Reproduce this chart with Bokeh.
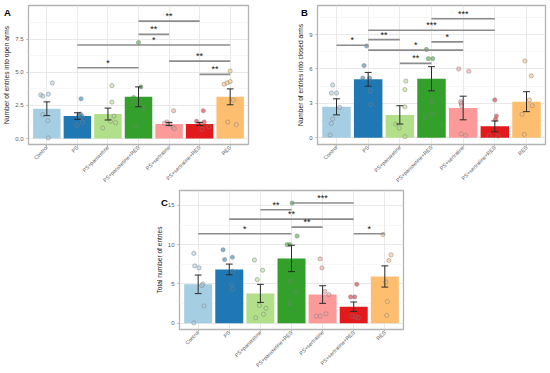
import math
from bokeh.plotting import figure
from bokeh.models import Range1d, FixedTicker, Spacer, Div
from bokeh.layouts import row, column
from bokeh.embed import file_html
from bokeh.resources import INLINE

groups = ["Control", "PS", "PS+paroxetine", "PS+paroxetine+RES",
          "PS+sertraline", "PS+sertraline+RES", "RES"]
colors = ["#A6CEE3", "#1F78B4", "#B2DF8A", "#33A02C", "#FB9A99", "#E31A1C", "#FDBF6F"]

# ---------- Panel A: entries into open arms ----------
A_mean = [2.25, 1.7, 1.85, 3.15, 1.1, 1.1, 3.15]
A_sem = [0.52, 0.25, 0.45, 0.75, 0.12, 0.12, 0.6]
A_points = [
    [3.3, 3.2, 3.35, 4.2, 1.8, 1.35, 0.05],
    [3.0, 1.85, 1.75, 1.7, 1.25, 1.0],
    [4.0, 2.75, 1.7, 1.3, 1.2, 0.8],
    [7.25, 3.9, 3.1, 2.65, 2.25, 0.95],
    [2.1, 1.25, 1.15, 1.1, 0.85, 0.75],
    [2.1, 1.3, 1.25, 1.1, 0.9, 0.7],
    [5.1, 4.3, 4.2, 4.1, 2.9, 1.25, 1.05],
]
A_sig = [(4, 6, 8.87, "**"), (4, 5, 7.87, "**"), (2, 7, 7.07, "*"),
         (5, 7, 5.85, "**"), (2, 4, 5.35, "*"), (6, 7, 4.85, "**")]
A_yticks = [0, 2.5, 5, 7.5]
A_ylabels = ["0.0", "2.5", "5.0", "7.5"]

# ---------- Panel B: entries into closed arms ----------
B_mean = [2.7, 5.1, 2.0, 5.15, 2.6, 1.0, 3.15]
B_sem = [0.7, 0.6, 0.8, 1.05, 1.03, 0.47, 0.87]
B_points = [
    [4.6, 3.9, 3.9, 2.65, 1.65, 1.25, 0.25],
    [8.0, 6.3, 5.2, 5.2, 4.1, 2.9],
    [4.95, 4.2, 2.7, 1.2, 0.85, 0.1],
    [7.7, 6.9, 6.9, 3.2, 2.1, 1.8],
    [6.0, 5.8, 3.15, 3.0, 2.8, 0.35, 0.2],
    [3.3, 1.9, 1.6, 0.2, 0.15],
    [6.7, 5.4, 3.3, 2.8, 2.05, 0.3],
]
B_sig = [(4, 6, 10.38, "***"), (2, 6, 9.37, "***"), (2, 3, 8.56, "**"),
         (4, 5, 8.36, "*"), (1, 2, 8.07, "*"), (2, 5, 7.64, "*"), (3, 4, 6.49, "**")]
B_yticks = [0, 3, 6, 9]
B_ylabels = ["0", "3", "6", "9"]

# ---------- Panel C: total entries ----------
C_mean = [4.95, 6.85, 3.8, 8.25, 3.65, 2.1, 5.95]
C_sem = [1.18, 0.68, 1.15, 1.68, 1.12, 0.6, 1.35]
C_points = [
    [8.9, 7.3, 7.05, 5.0, 4.8, 2.2, 0.05],
    [9.35, 8.4, 8.1, 6.6, 5.0, 4.35],
    [8.05, 6.75, 5.55, 2.25, 1.9, 1.15, 0.7],
    [15.3, 11.1, 10.0, 10.0, 5.3, 3.95, 2.6],
    [8.2, 7.05, 4.05, 3.65, 1.2, 0.9, 0.9],
    [4.95, 3.35, 3.35, 0.9, 0.8, 0.7],
    [11.3, 8.7, 8.0, 5.25, 2.75, 1.0],
]
C_sig = [(4, 6, 15.3, "***"), (3, 4, 14.45, "**"), (2, 6, 13.25, "**"),
         (4, 5, 12.23, "**"), (1, 4, 11.4, "*"), (6, 7, 11.4, "*")]
C_yticks = [0, 5, 10, 15]
C_ylabels = ["0", "5", "10", "15"]

# jitter offsets (horizontal placement of the dots)
A_jit = [[-0.2, -0.13, 0.05, 0.18, -0.13, 0.03, 0.05],
         [0.12, 0.1, 0.05, 0.15, 0.17, -0.02],
         [0.13, 0.13, 0.2, 0.08, 0.25, -0.17],
         [0.0, 0.08, -0.16, -0.16, 0.13, -0.09],
         [0.15, -0.07, -0.15, 0.02, 0.13, 0.17],
         [0.12, -0.1, 0.15, 0.0, 0.3, 0.08],
         [0.0, 0.0, -0.1, -0.2, 0.1, -0.08, 0.2]]
B_jit = [[-0.12, -0.16, 0.0, 0.1, -0.12, -0.16, -0.2],
         [-0.05, -0.13, -0.17, 0.05, 0.06, 0.08],
         [0.19, 0.16, 0.16, -0.13, -0.02, 0.16],
         [-0.16, -0.1, 0.04, 0.02, 0.02, -0.19],
         [-0.14, 0.18, -0.08, -0.06, -0.05, -0.06, 0.08],
         [0.0, 0.05, 0.02, -0.18, 0.1],
         [-0.05, 0.15, 0.09, 0.18, -0.14, -0.07]]
C_jit = [[-0.14, -0.11, 0.03, 0.15, 0.12, 0.19, -0.14],
         [-0.2, 0.1, -0.15, 0.1, 0.08, 0.1],
         [-0.19, 0.07, -0.1, -0.03, 0.18, 0.1, -0.15],
         [0.02, 0.18, -0.14, -0.06, -0.03, 0.15, -0.05],
         [-0.08, -0.02, 0.07, 0.2, 0.11, -0.2, -0.08],
         [0.1, -0.1, 0.03, -0.05, 0.07, 0.15],
         [-0.06, 0.2, 0.13, 0.03, 0.08, 0.06]]

FONT = "Liberation Sans"
BORDER = "#B3B3B3"


def make_panel(ylabel, mean, sem, points, jit, sig, yticks, ylabels, yr,
               width, height, mb_left, mb_right, mb_top, mb_bottom):
    p = figure(width=width, height=height, output_backend="svg", toolbar_location=None,
               x_range=Range1d(0.4, 7.6), y_range=Range1d(*yr),
               min_border_left=mb_left, min_border_right=mb_right,
               min_border_top=mb_top, min_border_bottom=mb_bottom)
    p.background_fill_color = "white"
    p.border_fill_color = "white"
    p.outline_line_color = BORDER
    p.outline_line_width = 1.3

    xs = list(range(1, len(groups) + 1))
    p.xaxis.ticker = FixedTicker(ticks=xs)
    p.xaxis.major_label_overrides = {x: g for x, g in zip(xs, groups)}
    minor = [(yticks[i] + yticks[i + 1]) / 2 for i in range(len(yticks) - 1)]
    minor.append(yticks[-1] + (yticks[1] - yticks[0]) / 2)
    p.yaxis.ticker = FixedTicker(ticks=yticks, minor_ticks=minor)
    p.yaxis.major_label_overrides = {t: l for t, l in zip(yticks, ylabels)}
    for g in (p.xgrid, p.ygrid):
        g.grid_line_color = "#E3E3E3"
        g.grid_line_width = 0.8
    p.ygrid.minor_grid_line_color = "#F1F1F1"
    p.ygrid.minor_grid_line_width = 0.6

    for ax in (p.xaxis, p.yaxis):
        ax.axis_line_color = None
        ax.major_tick_line_color = BORDER
        ax.major_tick_out = 2
        ax.major_tick_in = 0
        ax.minor_tick_line_color = None
        ax.major_label_text_font = FONT
        ax.major_label_text_color = "#5A5A5A"
        ax.major_label_standoff = 1
    p.yaxis.major_label_text_font_size = "6px"
    p.xaxis.major_label_text_font_size = "5.3px"
    p.xaxis.major_label_standoff = 0
    p.xaxis.axis_label_standoff = 0
    p.xaxis.major_label_orientation = math.pi / 4
    p.yaxis.axis_label = ylabel
    p.yaxis.axis_label_text_font = FONT
    p.yaxis.axis_label_text_font_size = "6.6px"
    p.yaxis.axis_label_text_font_style = "normal"
    p.yaxis.axis_label_text_color = "#1A1A1A"
    p.yaxis.axis_label_standoff = 2

    # bars
    p.vbar(x=xs, top=mean, bottom=0, width=0.9, fill_color=colors, line_color=None)

    # jittered points
    px, py, pc = [], [], []
    for i, (vals, offs) in enumerate(zip(points, jit)):
        for v, o in zip(vals, offs):
            px.append(xs[i] + o)
            py.append(v)
            pc.append(colors[i])
    p.scatter(x=px, y=py, size=4.2, fill_color=pc, fill_alpha=0.55,
              line_color="#808080", line_alpha=0.7, line_width=0.7)

    # error bars (mean +/- sem)
    lo = [m - s for m, s in zip(mean, sem)]
    hi = [m + s for m, s in zip(mean, sem)]
    p.segment(x0=xs, x1=xs, y0=lo, y1=hi, line_color="#2B2B2B", line_width=1)
    cw = 0.11
    p.segment(x0=[x - cw for x in xs], x1=[x + cw for x in xs], y0=hi, y1=hi,
              line_color="#2B2B2B", line_width=1)
    p.segment(x0=[x - cw for x in xs], x1=[x + cw for x in xs], y0=lo, y1=lo,
              line_color="#2B2B2B", line_width=1)

    # significance brackets
    s_x0 = [a for a, b, y, t in sig]
    s_x1 = [b for a, b, y, t in sig]
    s_y = [y for a, b, y, t in sig]
    s_t = [t for a, b, y, t in sig]
    p.segment(x0=s_x0, x1=s_x1, y0=s_y, y1=s_y, line_color="#8C8C8C", line_width=1.6)
    p.text(x=[(a + b) / 2 for a, b in zip(s_x0, s_x1)], y=s_y, text=s_t,
           text_align="center", text_baseline="bottom", text_font_size="9px",
           text_color="#111111")
    return p


pA = make_panel("Number of entries into open arms", A_mean, A_sem, A_points, A_jit,
                A_sig, A_yticks, A_ylabels, (-0.45, 10.05),
                width=275, height=188, mb_left=23, mb_right=27, mb_top=5, mb_bottom=40)
pB = make_panel("Number of entries into closed arms", B_mean, B_sem, B_points, B_jit,
                B_sig, B_yticks, B_ylabels, (-0.58, 11.53),
                width=275, height=188, mb_left=42, mb_right=5, mb_top=5, mb_bottom=40)
pC = make_panel("Total number of entries", C_mean, C_sem, C_points, C_jit,
                C_sig, C_yticks, C_ylabels, (-0.8, 16.9),
                width=283, height=185, mb_left=49, mb_right=10, mb_top=2, mb_bottom=40)


def tag(letter, left, top):
    return Div(text=letter, margin=0, styles={
        "position": "absolute", "left": f"{left}px", "top": f"{top}px",
        "font-family": "Liberation Sans", "font-weight": "bold", "font-size": "9.5px",
        "line-height": "10px", "color": "black", "z-index": "10"})


layout = column(row(pA, pB), row(Spacer(width=130, height=185), pC),
                tag("A", 4, 8), tag("B", 301, 8), tag("C", 161, 198),
                styles={"position": "relative"})

open("out.html", "w").write(file_html(layout, INLINE))
